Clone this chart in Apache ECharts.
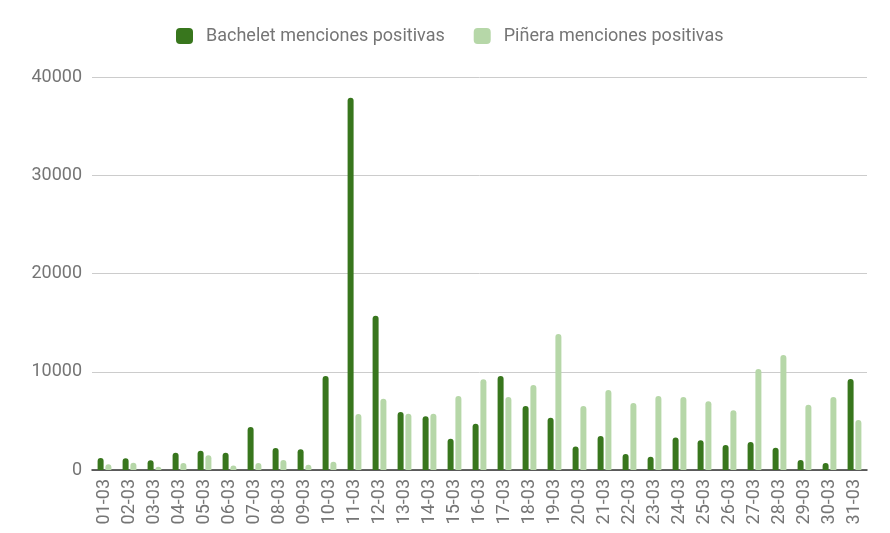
<!DOCTYPE html>
<html><head><meta charset="utf-8">
<script src="https://cdn.jsdelivr.net/npm/echarts@6/dist/echarts.min.js"></script>
<style>html,body{margin:0;padding:0;background:#fff}#c{width:890px;height:533px}</style>
</head><body><div id="c"></div>
<script>
const categories = ["01-03","02-03","03-03","04-03","05-03","06-03","07-03","08-03","09-03","10-03","11-03","12-03","13-03","14-03","15-03","16-03","17-03","18-03","19-03","20-03","21-03","22-03","23-03","24-03","25-03","26-03","27-03","28-03","29-03","30-03","31-03"];
const bachelet = [1220,1200,1000,1760,1970,1760,4380,2240,2100,9570,37900,15700,5900,5460,3190,4720,9570,6510,5330,2380,3460,1630,1360,3320,3020,2540,2850,2270,1020,710,9260];
const pinera = [580,750,340,710,1490,470,710,1020,540,850,5700,7260,5730,5730,7530,9230,7430,8650,13840,6510,8140,6820,7530,7430,6990,6070,10280,11700,6650,7430,5090];
const seriesNames = ["Bachelet menciones positivas","Piñera menciones positivas"];
const yTicks = {min:0, max:40000, interval:10000};

const chart = echarts.init(document.getElementById('c'));
chart.setOption({
  animation:false,
  textStyle:{fontFamily:'Roboto'},
  color:['#38761d','#b6d7a8'],
  legend:{
    top:22, left:171, itemWidth:17, itemHeight:16, itemGap:29,
    icon:'roundRect',
    textStyle:{color:'#757575', fontSize:18, fontFamily:'Roboto', padding:[0,0,0,8]},
    data:seriesNames
  },
  grid:{left:92, right:23, top:77, bottom:63},
  xAxis:{
    type:'category', data:categories,
    axisLine:{lineStyle:{color:'#333', width:1.5}},
    axisTick:{show:false},
    axisLabel:{rotate:90, color:'#757575', fontSize:18, margin:9, interval:0}
  },
  yAxis:{
    type:'value', min:yTicks.min, max:yTicks.max, interval:yTicks.interval,
    axisLine:{show:false}, axisTick:{show:false},
    splitLine:{lineStyle:{color:'#cccccc'}},
    axisLabel:{color:'#757575', fontSize:18, margin:10, formatter:function(v){return String(v);}}
  },
  series:[
    {name:seriesNames[0], type:'bar', data:bachelet, barWidth:6, barGap:'30%', itemStyle:{borderRadius:[3,3,0,0]}},
    {name:seriesNames[1], type:'bar', data:pinera, barWidth:6, barGap:'30%', itemStyle:{borderRadius:[3,3,0,0]}}
  ]
});
</script></body></html>
